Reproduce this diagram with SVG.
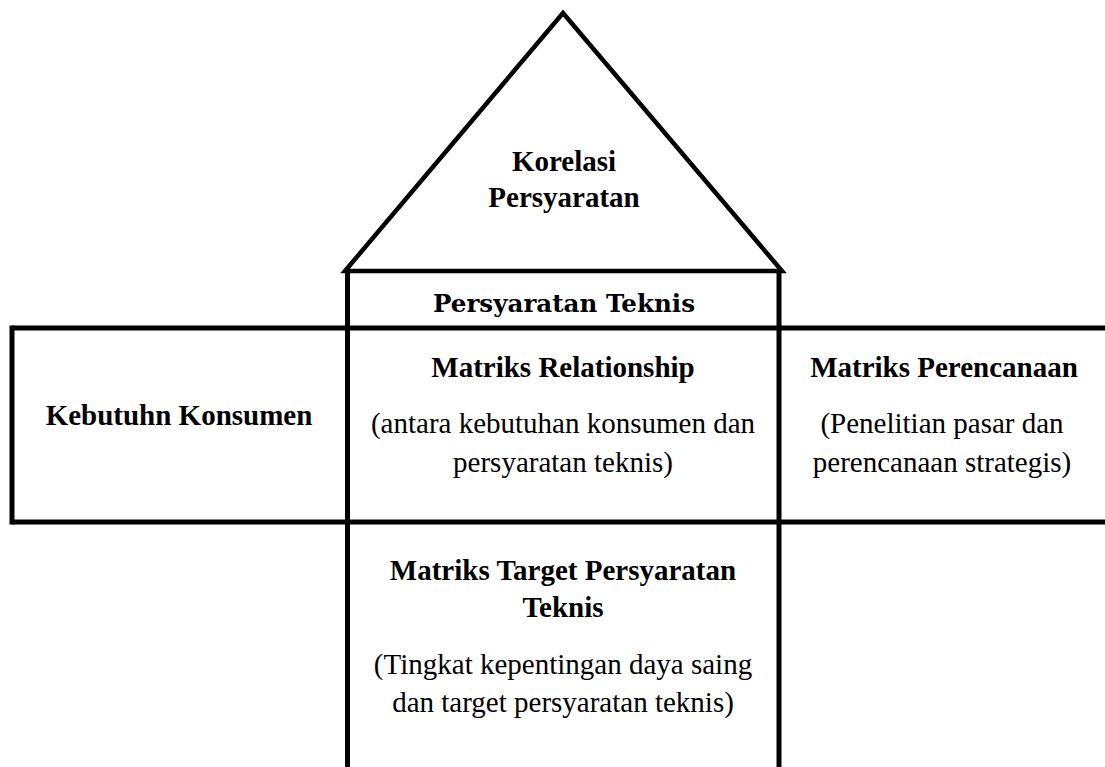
<svg xmlns="http://www.w3.org/2000/svg" width="1105" height="767" viewBox="0 0 1105 767">
<style>
.ln{fill:none;stroke:#000;stroke-width:5;stroke-linecap:butt}
.tri{fill:none;stroke:#000;stroke-width:4.5;stroke-linejoin:miter}
.b{font-family:"Liberation Serif","Times New Roman",serif;font-weight:bold;font-size:29px;fill:#000;text-anchor:middle}
.r{font-family:"Liberation Serif","Times New Roman",serif;font-size:29px;fill:#000;text-anchor:middle}
.c{font-family:"DejaVu Serif","Liberation Serif",serif;font-weight:bold;font-size:25px;fill:#000;text-anchor:middle}
</style>
<rect width="1105" height="767" fill="#fff"/>
<g id="connectors">
<line class="ln" x1="12" y1="328" x2="1105" y2="328"/>
<line class="ln" x1="12" y1="522" x2="1105" y2="522"/>
<line class="ln" x1="12" y1="325.5" x2="12" y2="524.5"/>
<line class="ln" x1="347.5" y1="269" x2="347.5" y2="767"/>
<line class="ln" x1="779" y1="269" x2="779" y2="767"/>
</g>
<g id="korelasi">
<polygon class="tri" points="345,271 563,13 782,271"/>
<text class="b" x="564" y="171">Korelasi</text>
<text class="b" x="564" y="207">Persyaratan</text>
</g>
<g id="persyaratan-teknis">
<text class="c" x="564" y="312" textLength="262" lengthAdjust="spacingAndGlyphs">Persyaratan Teknis</text>
</g>
<g id="kebutuhan-konsumen">
<text class="b" x="179" y="425">Kebutuhn Konsumen</text>
</g>
<g id="matriks-relationship">
<text class="b" x="563" y="377">Matriks Relationship</text>
<text class="r" x="563" y="433">(antara kebutuhan konsumen dan</text>
<text class="r" x="563" y="472">persyaratan teknis)</text>
</g>
<g id="matriks-perencanaan">
<text class="b" x="944" y="377">Matriks Perencanaan</text>
<text class="r" x="942" y="433">(Penelitian pasar dan</text>
<text class="r" x="942" y="472">perencanaan strategis)</text>
</g>
<g id="matriks-target">
<text class="b" x="563" y="580">Matriks Target Persyaratan</text>
<text class="b" x="563" y="617">Teknis</text>
<text class="r" x="563" y="674">(Tingkat kepentingan daya saing</text>
<text class="r" x="563" y="712">dan target persyaratan teknis)</text>
</g>
</svg>
